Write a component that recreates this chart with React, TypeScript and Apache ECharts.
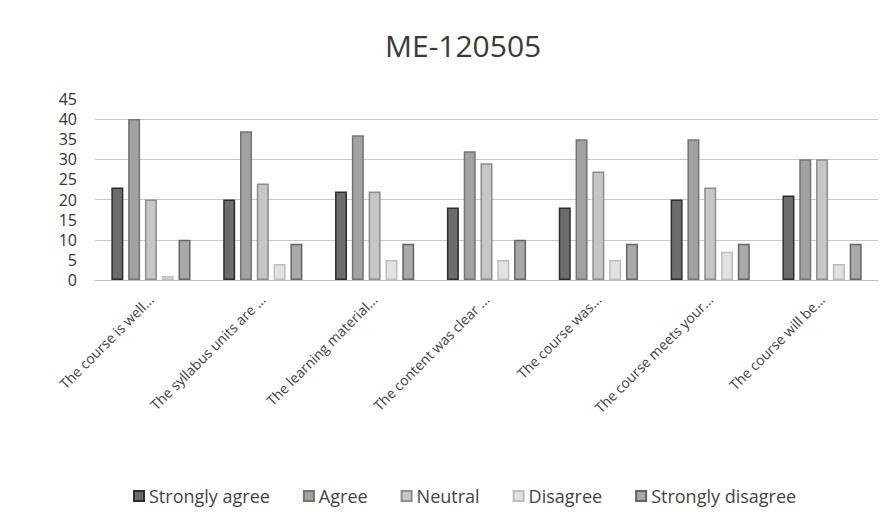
import React, { useEffect, useRef } from "react";
import * as echarts from "echarts";

const categories = [
  "The course is well...",
  "The syllabus units are ...",
  "The learning material...",
  "The content was clear ...",
  "The course was...",
  "The course meets your...",
  "The course will be...",
];
const seriesNames = ["Strongly agree", "Agree", "Neutral", "Disagree", "Strongly disagree"];
const stronglyAgree = [23, 20, 22, 18, 18, 20, 21];
const agree = [40, 37, 36, 32, 35, 35, 30];
const neutral = [20, 24, 22, 29, 27, 23, 30];
const disagree = [1, 4, 5, 5, 5, 7, 4];
const stronglyDisagree = [10, 9, 9, 10, 9, 9, 9];
const fills = ["#6c6c6c", "#a2a2a2", "#c6c6c6", "#e2e2e2", "#a9a9a9"];
const borders = ["#2e2e2e", "#747474", "#8c8c8c", "#bdbdbd", "#646464"];

export default function App() {
  const ref = useRef<HTMLDivElement>(null);
  useEffect(() => {
    if (!ref.current) return;
    const chart = echarts.init(ref.current, undefined, { renderer: "svg" });
    const data = [stronglyAgree, agree, neutral, disagree, stronglyDisagree];
    const font = "'Open Sans', 'Noto Sans', sans-serif";
    chart.setOption({
      animation: false,
      backgroundColor: "#ffffff",
      title: {
        text: "ME-120505",
        left: 380,
        top: 25,
        textStyle: { fontFamily: font, fontSize: 30, fontWeight: "normal", color: "#3a3a3a" },
      },
      legend: {
        top: 482,
        left: 128,
        icon: "rect",
        itemWidth: 10,
        itemHeight: 10,
        itemGap: 33,
        textStyle: { fontFamily: font, fontSize: 18, color: "#444" },
        data: seriesNames,
      },
      grid: { left: 95, right: 11, top: 99, bottom: 248, containLabel: false },
      xAxis: {
        type: "category",
        data: categories,
        axisLine: { lineStyle: { color: "#bbb" } },
        axisTick: { show: false },
        axisLabel: {
          rotate: 45,
          interval: 0,
          margin: 17,
          fontFamily: font,
          fontSize: 14,
          color: "#444",
        },
      },
      yAxis: {
        type: "value",
        min: 0,
        max: 45,
        interval: 5,
        axisLine: { show: false },
        axisTick: { show: false },
        axisLabel: { fontFamily: font, fontSize: 16, color: "#333", margin: 18 },
        splitLine: { lineStyle: { color: ["#c8c8c8", "rgba(0,0,0,0)"], width: 1 } },
      },
      series: seriesNames.map((name, i) => ({
        name,
        type: "bar",
        data: data[i],
        barWidth: 12,
        barGap: "40%",
        itemStyle: { color: fills[i], borderColor: borders[i], borderWidth: 1.5 },
      })),
    });
    return () => chart.dispose();
  }, []);
  return (
    <div
      ref={ref}
      style={{ position: "fixed", left: 0, top: 0, width: 889, height: 528 }}
    />
  );
}
